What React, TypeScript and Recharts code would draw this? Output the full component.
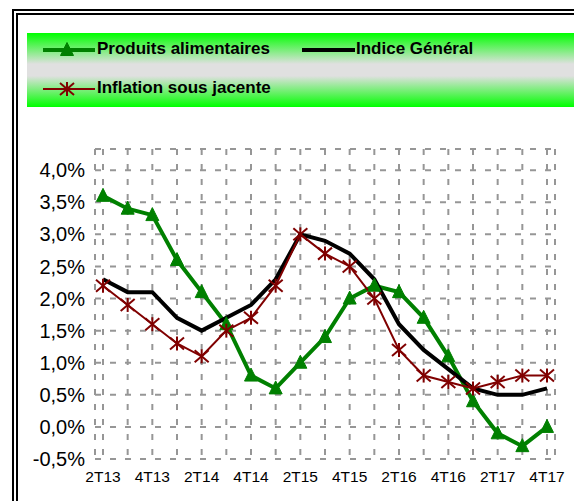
import React from 'react'
import { LineChart, Line, XAxis, YAxis, CartesianGrid } from 'recharts'

const quarters = ['2T13', '3T13', '4T13', '1T14', '2T14', '3T14', '4T14', '1T15', '2T15', '3T15', '4T15', '1T16', '2T16', '3T16', '4T16', '1T17', '2T17', '3T17', '4T17']
const produitsAlimentaires = [3.6, 3.4, 3.3, 2.6, 2.1, 1.6, 0.8, 0.6, 1.0, 1.4, 2.0, 2.2, 2.1, 1.7, 1.1, 0.4, -0.1, -0.3, 0.0]
const indiceGeneral = [2.3, 2.1, 2.1, 1.7, 1.5, 1.7, 1.9, 2.3, 3.0, 2.9, 2.7, 2.3, 1.6, 1.2, 0.9, 0.6, 0.5, 0.5, 0.6]
const inflationSousJacente = [2.2, 1.9, 1.6, 1.3, 1.1, 1.5, 1.7, 2.2, 3.0, 2.7, 2.5, 2.0, 1.2, 0.8, 0.7, 0.6, 0.7, 0.8, 0.8]
const yTicks = [-0.5, 0, 0.5, 1.0, 1.5, 2.0, 2.5, 3.0, 3.5, 4.0]

const data = quarters.map((q, i) => ({
  q,
  alim: produitsAlimentaires[i],
  general: indiceGeneral[i],
  sousJacente: inflationSousJacente[i],
}))

const GREEN = '#008000'
const RED = '#800000'
const FONT = '"Liberation Sans", Arial, sans-serif'

const fmtPct = (v: number) => v.toFixed(1).replace('.', ',') + '%'

function Triangle({ cx, cy }: any) {
  if (cx == null || cy == null) return null
  return <polygon points={`${cx},${cy - 7.5} ${cx - 6.5},${cy + 5.5} ${cx + 6.5},${cy + 5.5}`} fill={GREEN} stroke={GREEN} strokeWidth={1} />
}

function Star({ cx, cy }: any) {
  if (cx == null || cy == null) return null
  return (
    <g stroke={RED} strokeWidth={2}>
      <line x1={cx} y1={cy - 7} x2={cx} y2={cy + 7} />
      <line x1={cx - 7} y1={cy - 6} x2={cx + 7} y2={cy + 6} />
      <line x1={cx - 7} y1={cy + 6} x2={cx + 7} y2={cy - 6} />
    </g>
  )
}

function QuarterTick(props: any) {
  const { x, y, payload, index } = props
  if (index % 2 !== 0) return <g />
  return (
    <text x={x} y={y} dy="0.71em" textAnchor="middle" fontSize={15.5} fontFamily={FONT} fill="#000">
      {payload.value}
    </text>
  )
}

function LegendBox() {
  const label = { position: 'absolute' as const, fontFamily: FONT, fontWeight: 700, fontSize: 17, color: '#000', lineHeight: '20px' }
  return (
    <div style={{
      position: 'absolute', left: 27, top: 33, width: 560, height: 74,
      background: 'linear-gradient(to bottom, #00ff00 0%, #e0e0e0 42%, #e0e0e0 58%, #00ff00 100%)',
    }}>
      <svg width={560} height={74} style={{ position: 'absolute', left: 0, top: 0 }}>
        <line x1={16} y1={17} x2={68} y2={17} stroke={GREEN} strokeWidth={4} />
        <Triangle cx={40} cy={17} />
        <line x1={275} y1={17} x2={328} y2={17} stroke="#000" strokeWidth={4} />
        <line x1={16} y1={56} x2={68} y2={56} stroke={RED} strokeWidth={2} />
        <Star cx={40} cy={56} />
      </svg>
      <div style={{ ...label, left: 70, top: 6 }}>Produits alimentaires</div>
      <div style={{ ...label, left: 329, top: 6 }}>Indice Général</div>
      <div style={{ ...label, left: 70, top: 45 }}>Inflation sous jacente</div>
    </div>
  )
}

export default function App() {
  return (
    <div style={{ position: 'absolute', left: 0, top: 0, width: 574, height: 501, overflow: 'hidden', background: '#fff' }}>
      <div style={{ position: 'absolute', left: 12, top: 9, width: 700, height: 700, border: '6px double #000', boxSizing: 'border-box' }} />
      <LegendBox />
      <div style={{ position: 'absolute', left: 0, top: 0 }}>
        <LineChart width={574} height={501} data={data} margin={{ top: 149, right: 19, bottom: 12, left: 0 }}>
          <CartesianGrid stroke="#969696" strokeWidth={2} strokeDasharray="6 9" />
          <XAxis dataKey="q" scale="point" padding={{ left: 8, right: 8 }} interval={0}
            axisLine={false} tickLine={false} tickSize={0} tickMargin={12} height={30} tick={<QuarterTick />} />
          <YAxis type="number" domain={[-0.5, 4.33]} ticks={yTicks} width={95}
            axisLine={false} tickLine={false} tickSize={0} tickMargin={10}
            tickFormatter={fmtPct} tick={{ fontSize: 20, fontFamily: FONT, fill: '#000' }} />
          <Line dataKey="alim" stroke={GREEN} strokeWidth={4} dot={<Triangle />} isAnimationActive={false} />
          <Line dataKey="general" stroke="#000" strokeWidth={4} dot={false} isAnimationActive={false} />
          <Line dataKey="sousJacente" stroke={RED} strokeWidth={2} dot={<Star />} isAnimationActive={false} />
        </LineChart>
      </div>
    </div>
  )
}
